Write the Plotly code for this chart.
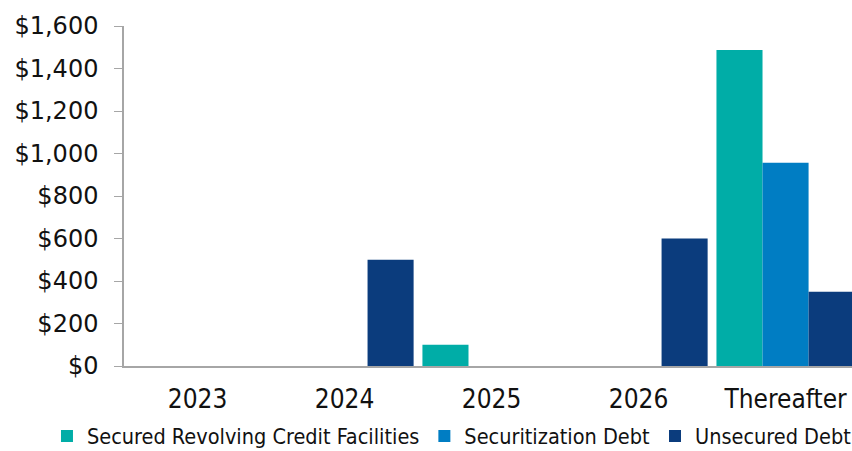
import plotly.graph_objects as go

categories = ["2023", "2024", "2025", "2026", "Thereafter"]
secured_revolving = [0, 0, 100, 0, 1487]
securitization = [0, 0, 0, 0, 957]
unsecured = [0, 500, 0, 600, 350]

y_ticks = [0, 200, 400, 600, 800, 1000, 1200, 1400, 1600]
y_tick_labels = ["$0", "$200", "$400", "$600", "$800", "$1,000", "$1,200", "$1,400", "$1,600"]

series = [
    ("Secured Revolving Credit Facilities", secured_revolving, "#00ADA7"),
    ("Securitization Debt", securitization, "#007DC3"),
    ("Unsecured Debt", unsecured, "#0B3C7D"),
]

fig = go.Figure()
for name, vals, col in series:
    fig.add_trace(go.Bar(
        x=categories, y=vals, name=name,
        marker=dict(color=col, line=dict(width=0)),
    ))

cond_font = "DejaVu Sans Condensed, Roboto, sans-serif"

fig.update_layout(
    width=852, height=451,
    margin=dict(l=124, r=0, t=26, b=85, autoexpand=False),
    paper_bgcolor="white", plot_bgcolor="white",
    barmode="group", bargap=0.06, bargroupgap=0,
    showlegend=True,
    legend=dict(
        orientation="h", x=-0.1058, xanchor="left", y=-0.206, yanchor="middle",
        font=dict(family=cond_font, size=21.5, color="#111"),
        itemwidth=30, tracegroupgap=0,
    ),
    xaxis=dict(
        type="category", range=[-0.5, 4.452],
        showline=True, linecolor="#a6a6a6", linewidth=2,
        ticks="", showgrid=False,
        tickfont=dict(family=cond_font, size=26, color="#111"),
        ticklabelstandoff=9,
    ),
    yaxis=dict(
        range=[0, 1600], tickvals=y_ticks, ticktext=y_tick_labels,
        showline=True, linecolor="#a6a6a6", linewidth=1.5,
        ticks="outside", ticklen=8, tickcolor="#a6a6a6", tickwidth=1,
        showgrid=False, zeroline=False,
        tickfont=dict(family="DejaVu Sans, sans-serif", size=24, color="#111"),
        ticklabelstandoff=11,
    ),
)

fig.write_html(
    "out.html",
    config={"displayModeBar": False},
    post_script="document.body.style.margin='0';document.body.style.overflow='hidden';",
)
